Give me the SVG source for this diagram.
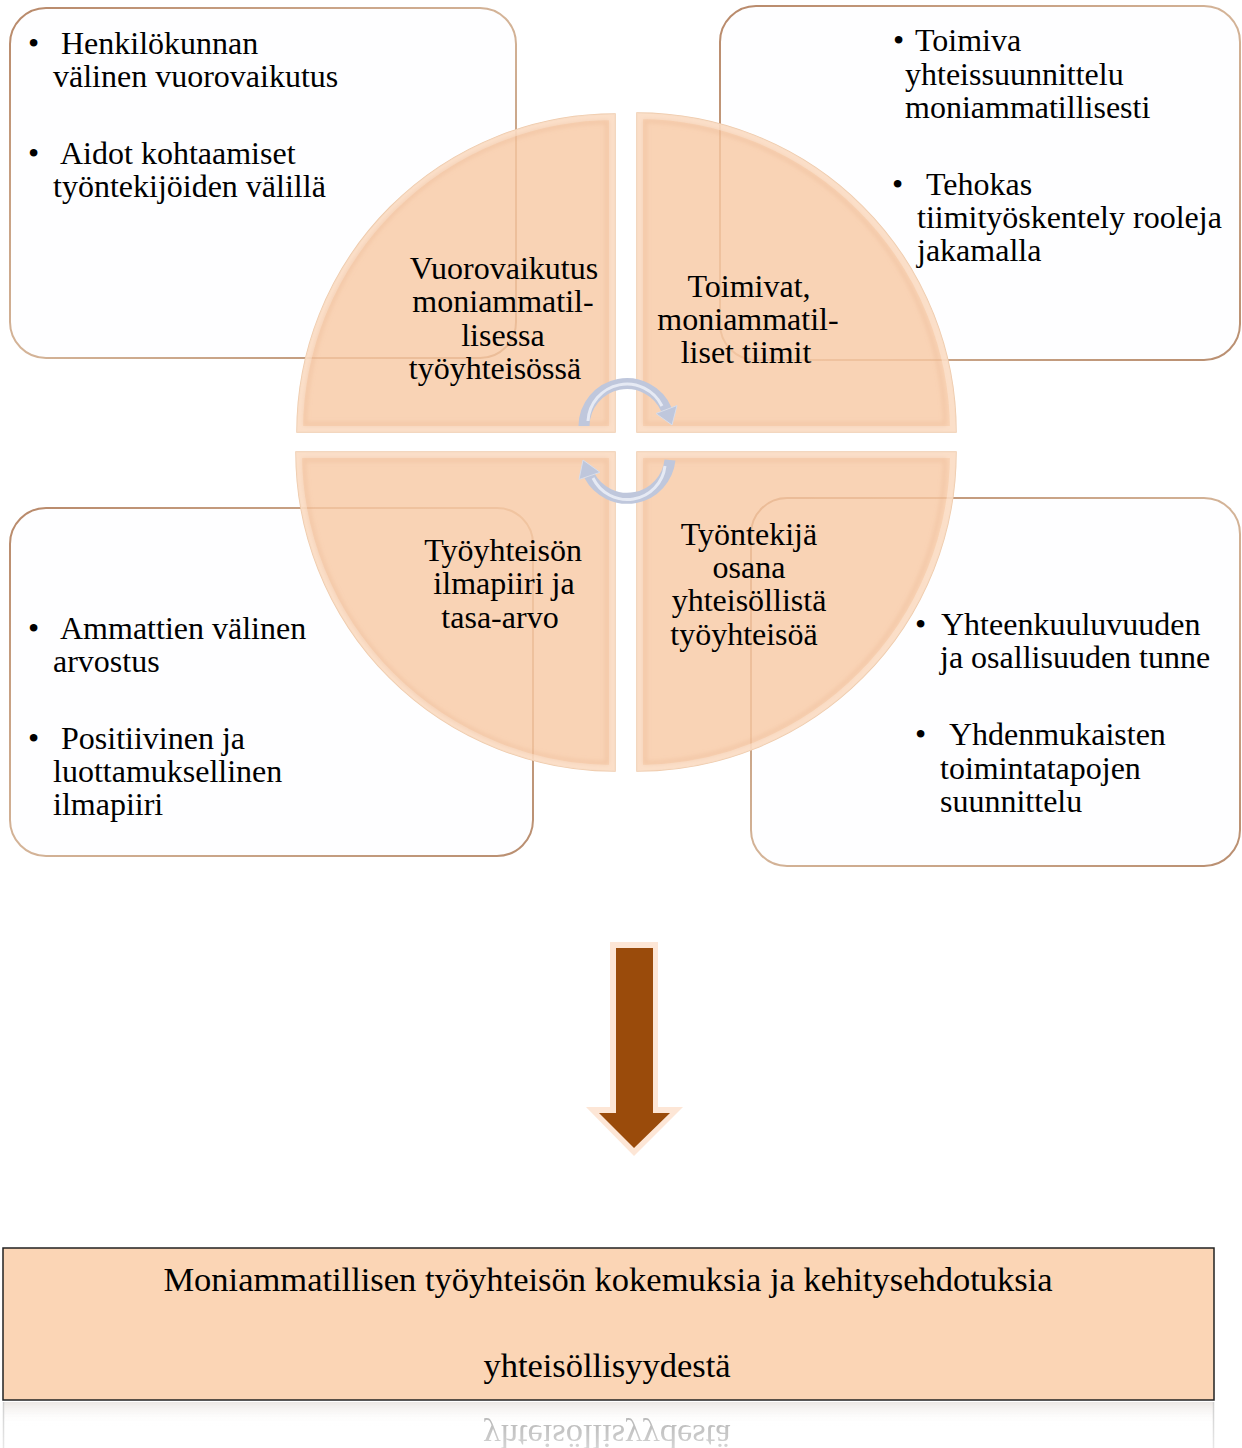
<svg xmlns="http://www.w3.org/2000/svg" width="1242" height="1448" viewBox="0 0 1242 1448">
  <defs>
    <style>
      .t { font-family: "Liberation Serif", "Times New Roman", serif; font-size: 32px; fill: #000; }
      .c { text-anchor: middle; }
      .big { font-family: "Liberation Serif", "Times New Roman", serif; font-size: 34.5px; fill: #000; text-anchor: middle; }
      .box { fill: #fefeff; stroke: url(#boxStroke); stroke-width: 2; }
      .q { fill: #f7c8a3; fill-opacity: 0.8; stroke: #efcaab; stroke-width: 1.5; }
      .rim { fill: none; stroke: #fde9d8; stroke-opacity: 0.55; stroke-width: 6; }
      .inner { fill: none; stroke: #e2aa82; stroke-opacity: 0.35; stroke-width: 3; filter: url(#soft); }
      .carc { fill: none; stroke: #bfc7dc; stroke-width: 11; }
      .carcHi { fill: none; stroke: #e6eaf4; stroke-width: 3; }
      .chead { fill: #bfc7dc; stroke: #d8ddea; stroke-width: 1; }
    </style>
    <filter id="soft" x="-5%" y="-5%" width="110%" height="110%">
      <feGaussianBlur stdDeviation="2"/>
    </filter>
    <linearGradient id="boxStroke" x1="0" y1="0" x2="1" y2="1">
      <stop offset="0" stop-color="#b8896a"/>
      <stop offset="0.5" stop-color="#d4b498"/>
      <stop offset="1" stop-color="#b98e70"/>
    </linearGradient>
    <linearGradient id="reflFade" x1="0" y1="0" x2="0" y2="1">
      <stop offset="0" stop-color="#ffffff" stop-opacity="1"/>
      <stop offset="1" stop-color="#ffffff" stop-opacity="0.35"/>
    </linearGradient>
    <mask id="reflMask" maskUnits="userSpaceOnUse" x="0" y="1401" width="1242" height="60">
      <rect x="0" y="1401" width="1242" height="60" fill="url(#reflFade)"/>
    </mask>
    <linearGradient id="reflBand" x1="0" y1="0" x2="0" y2="1">
      <stop offset="0" stop-color="#e9e4e0" stop-opacity="0.9"/>
      <stop offset="1" stop-color="#ffffff" stop-opacity="0"/>
    </linearGradient>
  </defs>

  <rect x="0" y="0" width="1242" height="1448" fill="#ffffff"/>

  <!-- Outer boxes -->
  <g id="box-tl">
    <rect class="box" x="10" y="8" width="506" height="350" rx="36" ry="36"/>
    <text class="t"><tspan x="28" y="54">•</tspan><tspan x="61" y="54">Henkilökunnan</tspan></text>
    <text class="t" x="53" y="87">välinen vuorovaikutus</text>
    <text class="t"><tspan x="28" y="164">•</tspan><tspan x="60" y="164">Aidot kohtaamiset</tspan></text>
    <text class="t" x="53" y="197">työntekijöiden välillä</text>
  </g>
  <g id="box-tr">
    <rect class="box" x="720" y="6" width="520" height="354" rx="36" ry="36"/>
    <text class="t"><tspan x="893" y="51">•</tspan><tspan x="915" y="51">Toimiva</tspan></text>
    <text class="t" x="905" y="85">yhteissuunnittelu</text>
    <text class="t" x="905" y="118">moniammatillisesti</text>
    <text class="t"><tspan x="892" y="195">•</tspan><tspan x="926" y="195">Tehokas</tspan></text>
    <text class="t" x="917" y="228">tiimityöskentely rooleja</text>
    <text class="t" x="917" y="261">jakamalla</text>
  </g>
  <g id="box-bl">
    <rect class="box" x="10" y="508" width="523" height="348" rx="36" ry="36"/>
    <text class="t"><tspan x="28" y="639">•</tspan><tspan x="60" y="639">Ammattien välinen</tspan></text>
    <text class="t" x="53" y="672">arvostus</text>
    <text class="t"><tspan x="28" y="749">•</tspan><tspan x="61" y="749">Positiivinen ja</tspan></text>
    <text class="t" x="53" y="782">luottamuksellinen</text>
    <text class="t" x="53" y="815">ilmapiiri</text>
  </g>
  <g id="box-br">
    <rect class="box" x="751" y="498" width="489" height="368" rx="36" ry="36"/>
    <text class="t"><tspan x="915" y="635">•</tspan><tspan x="941" y="635">Yhteenkuuluvuuden</tspan></text>
    <text class="t" x="940" y="668">ja osallisuuden tunne</text>
    <text class="t"><tspan x="915" y="745">•</tspan><tspan x="949" y="745">Yhdenmukaisten</tspan></text>
    <text class="t" x="940" y="779">toimintatapojen</text>
    <text class="t" x="940" y="812">suunnittelu</text>
  </g>

  <!-- Pie quadrants -->
  <g id="q-tl">
    <path class="q" d="M615,432 L297,432 A318,318 0 0 1 615,114 Z"/>
    <path class="rim" d="M612,429 L300,429 A315,315 0 0 1 612,117 Z"/>
    <path class="inner" d="M607,424 L305,424 A307,307 0 0 1 607,122 Z"/>
    <text class="t c" x="504" y="279">Vuorovaikutus</text>
    <text class="t c" x="503" y="312">moniammatil-</text>
    <text class="t c" x="503" y="346">lisessa</text>
    <text class="t c" x="495" y="379">työyhteisössä</text>
  </g>
  <g id="q-tr">
    <path class="q" d="M637,432 L637,113 A319,319 0 0 1 956,432 Z"/>
    <path class="rim" d="M640,429 L640,116 A316,316 0 0 1 953,429 Z"/>
    <path class="inner" d="M645,424 L645,121 A308,308 0 0 1 945,424 Z"/>
    <text class="t c" x="749" y="297">Toimivat,</text>
    <text class="t c" x="748" y="330">moniammatil-</text>
    <text class="t c" x="746" y="363">liset tiimit</text>
  </g>
  <g id="q-bl">
    <path class="q" d="M615,452 L615,771 A319,319 0 0 1 296,452 Z"/>
    <path class="rim" d="M612,455 L612,768 A316,316 0 0 1 299,455 Z"/>
    <path class="inner" d="M607,460 L607,763 A308,308 0 0 1 304,460 Z"/>
    <text class="t c" x="503" y="561">Työyhteisön</text>
    <text class="t c" x="504" y="594">ilmapiiri ja</text>
    <text class="t c" x="500" y="628">tasa-arvo</text>
  </g>
  <g id="q-br">
    <path class="q" d="M637,452 L956,452 A319,319 0 0 1 637,771 Z"/>
    <path class="rim" d="M640,455 L953,455 A316,316 0 0 1 640,768 Z"/>
    <path class="inner" d="M645,460 L945,460 A308,308 0 0 1 645,763 Z"/>
    <text class="t c" x="749" y="545">Työntekijä</text>
    <text class="t c" x="749" y="578">osana</text>
    <text class="t c" x="749" y="611">yhteisöllistä</text>
    <text class="t c" x="744" y="645">työyhteisöä</text>
  </g>

  <!-- Connectors -->
  <g id="connectors">
    <g id="cycle-top">
      <path class="carc" d="M584,426 A43,43 0 0 1 666.5,409.6"/>
      <path class="carcHi" d="M588,421 A39,39 0 0 1 662,406"/>
      <polygon class="chead" points="677,405.5 656,413.5 672,425"/>
    </g>
    <g id="cycle-bottom">
      <path class="carc" d="M670,460 A43,43 0 0 1 589.4,475.7"/>
      <path class="carcHi" d="M665,466 A38,38 0 0 1 593,478"/>
      <polygon class="chead" points="579,479.5 600,472.3 583,460"/>
    </g>
    <g id="down-arrow">
      <polygon points="610,942 658,942 658,1107 683,1107 634,1156 586,1107 610,1107" fill="#fde6d6"/>
      <polygon points="616,948 653,948 653,1113 670,1113 634,1148 599,1113 616,1113" fill="#9a4b0b"/>
    </g>
  </g>

  <!-- Result box -->
  <g id="result">
    <rect x="3" y="1248" width="1211" height="152" fill="#fbd5b5" stroke="#222" stroke-width="1.5"/>
    <text class="big" x="608" y="1291">Moniammatillisen työyhteisön kokemuksia ja kehitysehdotuksia</text>
    <text class="big" x="607" y="1377">yhteisöllisyydestä</text>
  </g>

  <!-- Reflection of the result box -->
  <g id="reflection" mask="url(#reflMask)">
    <rect x="3" y="1402" width="1211" height="24" fill="url(#reflBand)"/>
    <line x1="3.5" y1="1402" x2="3.5" y2="1448" stroke="#cfcfcf" stroke-width="1.5"/>
    <line x1="1213.5" y1="1402" x2="1213.5" y2="1448" stroke="#cfcfcf" stroke-width="1.5"/>
    <g transform="translate(0,2802) scale(1,-1)">
      <text class="big" x="607" y="1377" style="fill:#a8a8a8">yhteisöllisyydestä</text>
    </g>
  </g>
</svg>
